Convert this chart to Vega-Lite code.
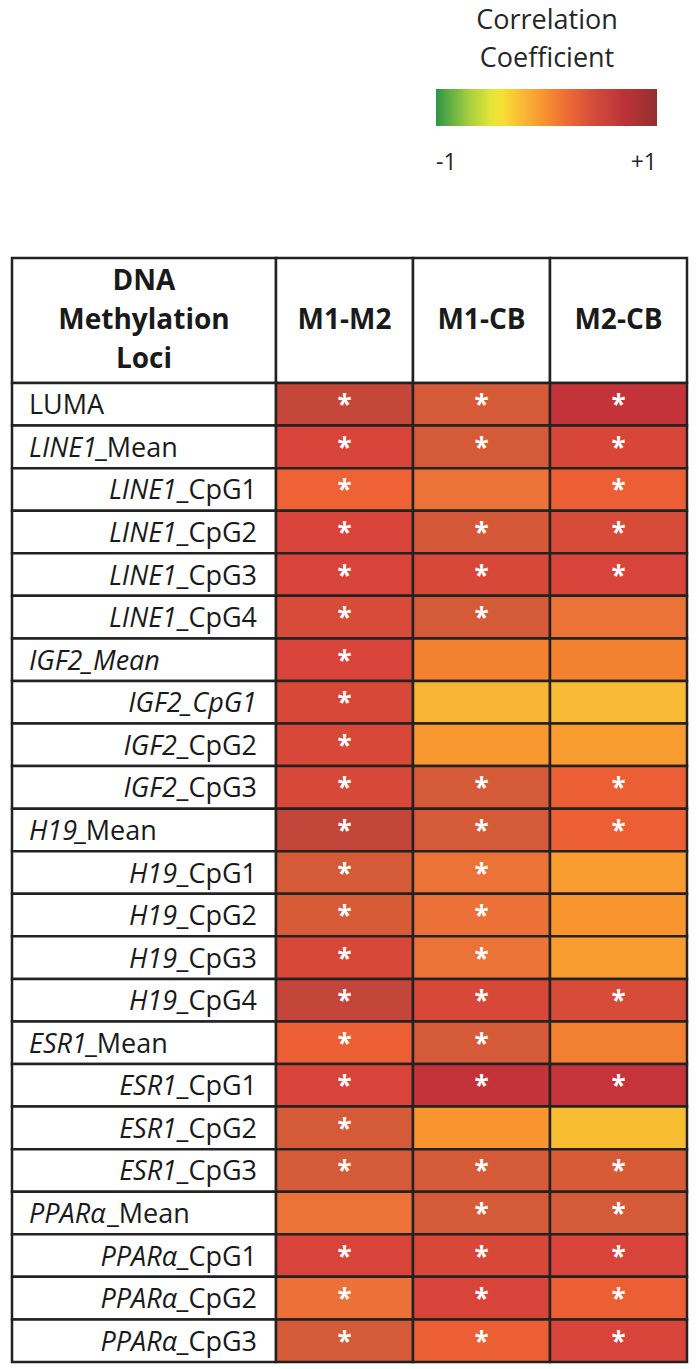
{
  "$schema": "https://vega.github.io/schema/vega-lite/v6.json",
  "padding": {"left": 10, "top": 0, "right": 0, "bottom": 0},
  "bounds": "flush",
  "spacing": 0,
  "columns": 2,
  "config": {"view": {"stroke": null}, "font": "Open Sans", "concat": {"spacing": 0}},
  "datasets": {
    "pairs": [{"pair": "M1-M2"}, {"pair": "M1-CB"}, {"pair": "M2-CB"}],
    "rows": [
      {"loci": "LUMA", "it": "", "nm": "LUMA", "level": "summary"},
      {"loci": "LINE1_Mean", "it": "LINE1", "nm": "_Mean", "level": "summary"},
      {"loci": "LINE1_CpG1", "it": "LINE1", "nm": "_CpG1", "level": "site"},
      {"loci": "LINE1_CpG2", "it": "LINE1", "nm": "_CpG2", "level": "site"},
      {"loci": "LINE1_CpG3", "it": "LINE1", "nm": "_CpG3", "level": "site"},
      {"loci": "LINE1_CpG4", "it": "LINE1", "nm": "_CpG4", "level": "site"},
      {"loci": "IGF2_Mean", "it": "IGF2_Mean", "nm": "", "level": "summary"},
      {"loci": "IGF2_CpG1", "it": "IGF2_CpG1", "nm": "", "level": "site"},
      {"loci": "IGF2_CpG2", "it": "IGF2", "nm": "_CpG2", "level": "site"},
      {"loci": "IGF2_CpG3", "it": "IGF2", "nm": "_CpG3", "level": "site"},
      {"loci": "H19_Mean", "it": "H19", "nm": "_Mean", "level": "summary"},
      {"loci": "H19_CpG1", "it": "H19", "nm": "_CpG1", "level": "site"},
      {"loci": "H19_CpG2", "it": "H19", "nm": "_CpG2", "level": "site"},
      {"loci": "H19_CpG3", "it": "H19", "nm": "_CpG3", "level": "site"},
      {"loci": "H19_CpG4", "it": "H19", "nm": "_CpG4", "level": "site"},
      {"loci": "ESR1_Mean", "it": "ESR1", "nm": "_Mean", "level": "summary"},
      {"loci": "ESR1_CpG1", "it": "ESR1", "nm": "_CpG1", "level": "site"},
      {"loci": "ESR1_CpG2", "it": "ESR1", "nm": "_CpG2", "level": "site"},
      {"loci": "ESR1_CpG3", "it": "ESR1", "nm": "_CpG3", "level": "site"},
      {"loci": "PPARα_Mean", "it": "PPARα", "nm": "_Mean", "level": "summary"},
      {"loci": "PPARα_CpG1", "it": "PPARα", "nm": "_CpG1", "level": "site"},
      {"loci": "PPARα_CpG2", "it": "PPARα", "nm": "_CpG2", "level": "site"},
      {"loci": "PPARα_CpG3", "it": "PPARα", "nm": "_CpG3", "level": "site"}
    ],
    "cells": [
      {"loci": "LUMA", "pair": "M1-M2", "r": 0.55, "sig": true},
      {"loci": "LUMA", "pair": "M1-CB", "r": 0.35, "sig": true},
      {"loci": "LUMA", "pair": "M2-CB", "r": 0.65, "sig": true},
      {"loci": "LINE1_Mean", "pair": "M1-M2", "r": 0.45, "sig": true},
      {"loci": "LINE1_Mean", "pair": "M1-CB", "r": 0.35, "sig": true},
      {"loci": "LINE1_Mean", "pair": "M2-CB", "r": 0.44, "sig": true},
      {"loci": "LINE1_CpG1", "pair": "M1-M2", "r": 0.24, "sig": true},
      {"loci": "LINE1_CpG1", "pair": "M1-CB", "r": 0.15, "sig": false},
      {"loci": "LINE1_CpG1", "pair": "M2-CB", "r": 0.26, "sig": true},
      {"loci": "LINE1_CpG2", "pair": "M1-M2", "r": 0.45, "sig": true},
      {"loci": "LINE1_CpG2", "pair": "M1-CB", "r": 0.36, "sig": true},
      {"loci": "LINE1_CpG2", "pair": "M2-CB", "r": 0.42, "sig": true},
      {"loci": "LINE1_CpG3", "pair": "M1-M2", "r": 0.45, "sig": true},
      {"loci": "LINE1_CpG3", "pair": "M1-CB", "r": 0.43, "sig": true},
      {"loci": "LINE1_CpG3", "pair": "M2-CB", "r": 0.45, "sig": true},
      {"loci": "LINE1_CpG4", "pair": "M1-M2", "r": 0.42, "sig": true},
      {"loci": "LINE1_CpG4", "pair": "M1-CB", "r": 0.35, "sig": true},
      {"loci": "LINE1_CpG4", "pair": "M2-CB", "r": 0.15, "sig": false},
      {"loci": "IGF2_Mean", "pair": "M1-M2", "r": 0.45, "sig": true},
      {"loci": "IGF2_Mean", "pair": "M1-CB", "r": 0.06, "sig": false},
      {"loci": "IGF2_Mean", "pair": "M2-CB", "r": 0.06, "sig": false},
      {"loci": "IGF2_CpG1", "pair": "M1-M2", "r": 0.43, "sig": true},
      {"loci": "IGF2_CpG1", "pair": "M1-CB", "r": -0.2, "sig": false},
      {"loci": "IGF2_CpG1", "pair": "M2-CB", "r": -0.22, "sig": false},
      {"loci": "IGF2_CpG2", "pair": "M1-M2", "r": 0.43, "sig": true},
      {"loci": "IGF2_CpG2", "pair": "M1-CB", "r": -0.04, "sig": false},
      {"loci": "IGF2_CpG2", "pair": "M2-CB", "r": -0.06, "sig": false},
      {"loci": "IGF2_CpG3", "pair": "M1-M2", "r": 0.43, "sig": true},
      {"loci": "IGF2_CpG3", "pair": "M1-CB", "r": 0.35, "sig": true},
      {"loci": "IGF2_CpG3", "pair": "M2-CB", "r": 0.26, "sig": true},
      {"loci": "H19_Mean", "pair": "M1-M2", "r": 0.56, "sig": true},
      {"loci": "H19_Mean", "pair": "M1-CB", "r": 0.35, "sig": true},
      {"loci": "H19_Mean", "pair": "M2-CB", "r": 0.26, "sig": true},
      {"loci": "H19_CpG1", "pair": "M1-M2", "r": 0.35, "sig": true},
      {"loci": "H19_CpG1", "pair": "M1-CB", "r": 0.15, "sig": true},
      {"loci": "H19_CpG1", "pair": "M2-CB", "r": -0.06, "sig": false},
      {"loci": "H19_CpG2", "pair": "M1-M2", "r": 0.34, "sig": true},
      {"loci": "H19_CpG2", "pair": "M1-CB", "r": 0.16, "sig": true},
      {"loci": "H19_CpG2", "pair": "M2-CB", "r": -0.03, "sig": false},
      {"loci": "H19_CpG3", "pair": "M1-M2", "r": 0.43, "sig": true},
      {"loci": "H19_CpG3", "pair": "M1-CB", "r": 0.15, "sig": true},
      {"loci": "H19_CpG3", "pair": "M2-CB", "r": -0.06, "sig": false},
      {"loci": "H19_CpG4", "pair": "M1-M2", "r": 0.56, "sig": true},
      {"loci": "H19_CpG4", "pair": "M1-CB", "r": 0.43, "sig": true},
      {"loci": "H19_CpG4", "pair": "M2-CB", "r": 0.42, "sig": true},
      {"loci": "ESR1_Mean", "pair": "M1-M2", "r": 0.26, "sig": true},
      {"loci": "ESR1_Mean", "pair": "M1-CB", "r": 0.35, "sig": true},
      {"loci": "ESR1_Mean", "pair": "M2-CB", "r": 0.07, "sig": false},
      {"loci": "ESR1_CpG1", "pair": "M1-M2", "r": 0.45, "sig": true},
      {"loci": "ESR1_CpG1", "pair": "M1-CB", "r": 0.65, "sig": true},
      {"loci": "ESR1_CpG1", "pair": "M2-CB", "r": 0.64, "sig": true},
      {"loci": "ESR1_CpG2", "pair": "M1-M2", "r": 0.35, "sig": true},
      {"loci": "ESR1_CpG2", "pair": "M1-CB", "r": -0.03, "sig": false},
      {"loci": "ESR1_CpG2", "pair": "M2-CB", "r": -0.24, "sig": false},
      {"loci": "ESR1_CpG3", "pair": "M1-M2", "r": 0.35, "sig": true},
      {"loci": "ESR1_CpG3", "pair": "M1-CB", "r": 0.35, "sig": true},
      {"loci": "ESR1_CpG3", "pair": "M2-CB", "r": 0.34, "sig": true},
      {"loci": "PPARα_Mean", "pair": "M1-M2", "r": 0.15, "sig": false},
      {"loci": "PPARα_Mean", "pair": "M1-CB", "r": 0.35, "sig": true},
      {"loci": "PPARα_Mean", "pair": "M2-CB", "r": 0.35, "sig": true},
      {"loci": "PPARα_CpG1", "pair": "M1-M2", "r": 0.45, "sig": true},
      {"loci": "PPARα_CpG1", "pair": "M1-CB", "r": 0.43, "sig": true},
      {"loci": "PPARα_CpG1", "pair": "M2-CB", "r": 0.45, "sig": true},
      {"loci": "PPARα_CpG2", "pair": "M1-M2", "r": 0.16, "sig": true},
      {"loci": "PPARα_CpG2", "pair": "M1-CB", "r": 0.45, "sig": true},
      {"loci": "PPARα_CpG2", "pair": "M2-CB", "r": 0.26, "sig": true},
      {"loci": "PPARα_CpG3", "pair": "M1-M2", "r": 0.35, "sig": true},
      {"loci": "PPARα_CpG3", "pair": "M1-CB", "r": 0.26, "sig": true},
      {"loci": "PPARα_CpG3", "pair": "M2-CB", "r": 0.45, "sig": true}
    ]
  },
  "concat": [
    {
      "width": 264,
      "height": 258,
      "data": {"values": [{"blank": ""}]},
      "mark": {"type": "text", "text": ""},
      "encoding": {}
    },
    {
      "width": 411,
      "height": 258,
      "data": {"values": [{"blank": ""}]},
      "mark": {"type": "text", "text": ""},
      "encoding": {}
    },
    {
      "width": 264,
      "height": 125,
      "data": {"values": [{"h": "DNA Methylation Loci"}]},
      "layer": [
        {"mark": {"type": "rect", "fill": "white", "stroke": "#222222", "strokeWidth": 2.5}, "encoding": {}},
        {"mark": {"type": "text", "text": ["DNA", "Methylation", "Loci"], "fontSize": 28, "fontWeight": "bold", "lineHeight": 39, "baseline": "middle", "align": "center", "dy": -39, "color": "#1a1a1a"}, "encoding": {}}
      ]
    },
    {
      "width": 411,
      "height": 125,
      "data": {"name": "pairs"},
      "encoding": {
        "x": {"field": "pair", "type": "nominal", "sort": ["M1-M2", "M1-CB", "M2-CB"], "axis": null, "scale": {"type": "band", "paddingInner": 0, "paddingOuter": 0}}
      },
      "layer": [
        {"mark": {"type": "rect", "fill": "white", "stroke": "#222222", "strokeWidth": 2.5}},
        {"mark": {"type": "text", "fontSize": 28, "fontWeight": "bold", "baseline": "middle", "color": "#1a1a1a"}, "encoding": {"text": {"field": "pair"}}}
      ]
    },
    {
      "width": 264,
      "height": 979,
      "data": {"name": "rows"},
      "encoding": {
        "y": {"field": "loci", "type": "nominal", "sort": null, "axis": null, "scale": {"type": "band", "paddingInner": 0, "paddingOuter": 0}}
      },
      "layer": [
        {"mark": {"type": "rect", "fill": "white", "stroke": "#222222", "strokeWidth": 2.5}},
        {
          "transform": [{"filter": "datum.level == 'summary'"}],
          "mark": {"type": "text", "align": "left", "baseline": "middle", "fontStyle": "italic", "fontSize": 27, "dx": 17, "dy": 2, "color": "#1a1a1a"},
          "encoding": {
            "x": {"field": "level", "type": "nominal", "bandPosition": 0, "axis": null, "scale": {"type": "band", "domain": ["summary", "site"], "paddingInner": 0, "paddingOuter": 0}},
            "text": {"field": "it"}
          }
        },
        {
          "transform": [{"filter": "datum.level == 'summary' && datum.it == ''"}],
          "mark": {"type": "text", "align": "left", "baseline": "middle", "fontSize": 27, "dx": 17, "dy": 2, "color": "#1a1a1a"},
          "encoding": {"x": {"field": "level", "type": "nominal", "bandPosition": 0}, "text": {"field": "nm"}}
        },
        {
          "transform": [{"filter": "datum.level == 'summary' && datum.it == 'LINE1'"}],
          "mark": {"type": "text", "align": "left", "baseline": "middle", "fontSize": 27, "dx": 83, "dy": 2, "color": "#1a1a1a"},
          "encoding": {"x": {"field": "level", "type": "nominal", "bandPosition": 0}, "text": {"field": "nm"}}
        },
        {
          "transform": [{"filter": "datum.level == 'summary' && datum.it == 'H19'"}],
          "mark": {"type": "text", "align": "left", "baseline": "middle", "fontSize": 27, "dx": 62, "dy": 2, "color": "#1a1a1a"},
          "encoding": {"x": {"field": "level", "type": "nominal", "bandPosition": 0}, "text": {"field": "nm"}}
        },
        {
          "transform": [{"filter": "datum.level == 'summary' && datum.it == 'ESR1'"}],
          "mark": {"type": "text", "align": "left", "baseline": "middle", "fontSize": 27, "dx": 73, "dy": 2, "color": "#1a1a1a"},
          "encoding": {"x": {"field": "level", "type": "nominal", "bandPosition": 0}, "text": {"field": "nm"}}
        },
        {
          "transform": [{"filter": "datum.level == 'summary' && datum.it == 'PPARα'"}],
          "mark": {"type": "text", "align": "left", "baseline": "middle", "fontSize": 27, "dx": 95, "dy": 2, "color": "#1a1a1a"},
          "encoding": {"x": {"field": "level", "type": "nominal", "bandPosition": 0}, "text": {"field": "nm"}}
        },
        {
          "transform": [{"filter": "datum.level == 'site'"}],
          "mark": {"type": "text", "align": "right", "baseline": "middle", "fontSize": 27, "dx": -19, "dy": 2, "color": "#1a1a1a"},
          "encoding": {"x": {"field": "level", "type": "nominal", "bandPosition": 1}, "text": {"field": "nm"}}
        },
        {
          "transform": [{"filter": "datum.level == 'site' && datum.nm != ''"}],
          "mark": {"type": "text", "align": "right", "baseline": "middle", "fontStyle": "italic", "fontSize": 27, "dx": -99, "dy": 2, "color": "#1a1a1a"},
          "encoding": {"x": {"field": "level", "type": "nominal", "bandPosition": 1}, "text": {"field": "it"}}
        },
        {
          "transform": [{"filter": "datum.level == 'site' && datum.nm == ''"}],
          "mark": {"type": "text", "align": "right", "baseline": "middle", "fontStyle": "italic", "fontSize": 27, "dx": -19, "dy": 2, "color": "#1a1a1a"},
          "encoding": {"x": {"field": "level", "type": "nominal", "bandPosition": 1}, "text": {"field": "it"}}
        }
      ]
    },
    {
      "width": 411,
      "height": 979,
      "data": {"name": "cells"},
      "encoding": {
        "x": {"field": "pair", "type": "nominal", "sort": ["M1-M2", "M1-CB", "M2-CB"], "axis": null, "scale": {"type": "band", "paddingInner": 0, "paddingOuter": 0}},
        "y": {"field": "loci", "type": "nominal", "sort": null, "axis": null, "scale": {"type": "band", "paddingInner": 0, "paddingOuter": 0}}
      },
      "layer": [
        {
          "mark": {"type": "rect", "stroke": "#222222", "strokeWidth": 2.5},
          "encoding": {
            "color": {
              "field": "r",
              "type": "quantitative",
              "scale": {
                "domain": [-1, -0.7, -0.45, -0.2, -0.05, 0.05, 0.15, 0.25, 0.35, 0.45, 0.55, 0.65, 1],
                "range": ["#2e9447", "#a6cf3e", "#f4ea38", "#f8b535", "#f89a30", "#f5832f", "#ec7338", "#ee6035", "#d55a38", "#d8433a", "#c4473a", "#c4323a", "#93302f"]
              },
              "legend": {
                "orient": "none",
                "legendX": 424,
                "legendY": 8,
                "direction": "horizontal",
                "gradientLength": 221,
                "gradientThickness": 37,
                "gradientStrokeWidth": 0,
                "title": ["Correlation", "Coefficient"],
                "titleFontSize": 27,
                "titleFontWeight": "normal",
                "titleLineHeight": 38,
                "titleAnchor": "middle",
                "titleAlign": "center",
                "titleColor": "#262626",
                "titlePadding": 16,
                "values": [-1, 1],
                "labelExpr": "datum.value > 0 ? '+1' : '-1'",
                "labelFontSize": 23,
                "labelColor": "#262626",
                "labelOffset": 26
              }
            }
          }
        },
        {
          "transform": [{"filter": "datum.sig"}],
          "mark": {"type": "text", "text": "*", "color": "white", "fontSize": 26, "fontWeight": "bold", "baseline": "middle", "dy": 2}
        }
      ]
    }
  ]
}
